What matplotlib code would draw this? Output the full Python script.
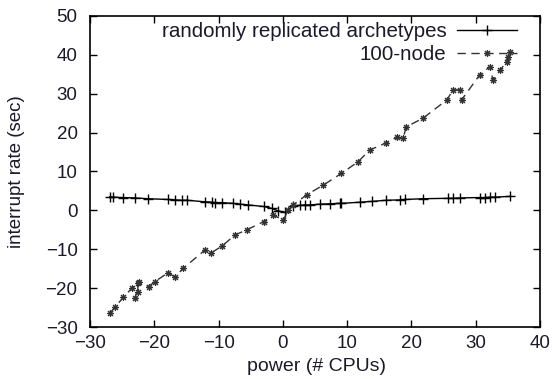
import matplotlib
matplotlib.use("Agg")
import matplotlib.pyplot as plt

plt.rcParams['font.family'] = ['Liberation Sans', 'DejaVu Sans']

# randomly replicated archetypes
arch_x = [-26.9, -26.4, -24.9, -23.0, -21.0, -17.8, -16.8, -15.7, -14.9, -12.1, -11.0,
          -10.6, -9.5, -7.7, -6.7, -5.4, -3.0, -1.7, -0.8, 0.3, 1.6, 2.7, 3.4, 4.2,
          5.8, 7.3, 8.9, 9.1, 12.0, 13.8, 16.1, 18.2, 19.0, 21.8, 25.7, 26.5, 27.5,
          30.6, 31.4, 32.2, 33.0, 35.3]
arch_y = [3.5, 3.4, 3.3, 3.2, 3.0, 2.8, 2.7, 2.6, 2.6, 2.2, 2.1,
          2.0, 2.0, 1.8, 1.6, 1.4, 1.0, 0.5, -0.1, -0.5, 1.2, 1.3, 1.4, 1.4,
          1.6, 1.7, 1.8, 1.8, 2.1, 2.3, 2.6, 2.7, 2.8, 3.0, 3.1, 3.1, 3.2,
          3.3, 3.3, 3.4, 3.4, 3.6]

# 100-node
node_x = [-26.9, -26.1, -24.8, -23.5, -22.5, -22.6, -23.0, -22.4, -20.9, -19.9, -17.8,
          -16.8, -15.5, -12.1, -11.1, -9.5, -7.4, -5.6, -3.0, -1.5, 0.1, 0.8,
          1.6, 3.7, 6.3, 9.1, 11.7, 13.5, 16.1, 17.7, 18.7, 19.2, 21.8, 25.5,
          26.5, 27.5, 27.8, 30.6, 32.2, 32.7, 33.8, 34.8, 35.1, 35.3]
node_y = [-26.5, -24.8, -22.4, -20.0, -18.6, -21.0, -22.6, -18.4, -19.6, -18.3, -16.0,
          -17.2, -14.9, -10.2, -10.9, -9.2, -6.3, -5.0, -2.9, -1.2, -2.5, 0.1,
          1.4, 4.0, 6.5, 9.5, 12.5, 15.5, 17.4, 18.8, 18.5, 21.5, 23.7, 28.4,
          31.0, 31.0, 28.4, 34.8, 37.0, 33.5, 36.1, 38.2, 39.5, 40.8]

fig = plt.figure(figsize=(5.58, 3.79), dpi=100)
ax = fig.add_axes([0.1613, 0.1372, 0.8064, 0.8206])

ax.plot(arch_x, arch_y, color='black', linewidth=1.0, marker='+', markersize=7,
        markeredgewidth=1.0, label='randomly replicated archetypes')
ax.plot(node_x, node_y, color='#333333', linewidth=1.0, linestyle=(0, (6, 4)),
        marker=(8, 2, 0), markersize=5, markeredgewidth=0.8, label='100-node')

ax.set_xlim(-30, 40)
ax.set_ylim(-30, 50)
ax.set_xticks(range(-30, 41, 10))
ax.set_yticks(range(-30, 51, 10))
ax.tick_params(direction='in', length=5, width=1, top=True, right=True,
               labelsize=13.5, colors='black', labelcolor='#1a1a2a')
ax.tick_params(axis='y', pad=9)
ax.tick_params(axis='x', pad=6)
for s in ax.spines.values():
    s.set_linewidth(1.2)

ax.set_xlabel('power (# CPUs)', fontsize=14, color='#1a1a2a')
ax.set_ylabel('interrupt rate (sec)', fontsize=13.5, color='#1a1a2a')
ax.xaxis.set_label_coords(0.504, -0.1)
ax.yaxis.set_label_coords(-0.145, 0.5)

leg = ax.legend(loc='upper right', bbox_to_anchor=(0.949, 0.98), frameon=False,
                markerfirst=False, fontsize=14.8, handlelength=2.9,
                handletextpad=0.53, labelspacing=0.2,
                borderaxespad=0, borderpad=0)
for t in leg.get_texts():
    t.set_color('#1a1a2a')

fig.savefig('out.png', dpi=100)
